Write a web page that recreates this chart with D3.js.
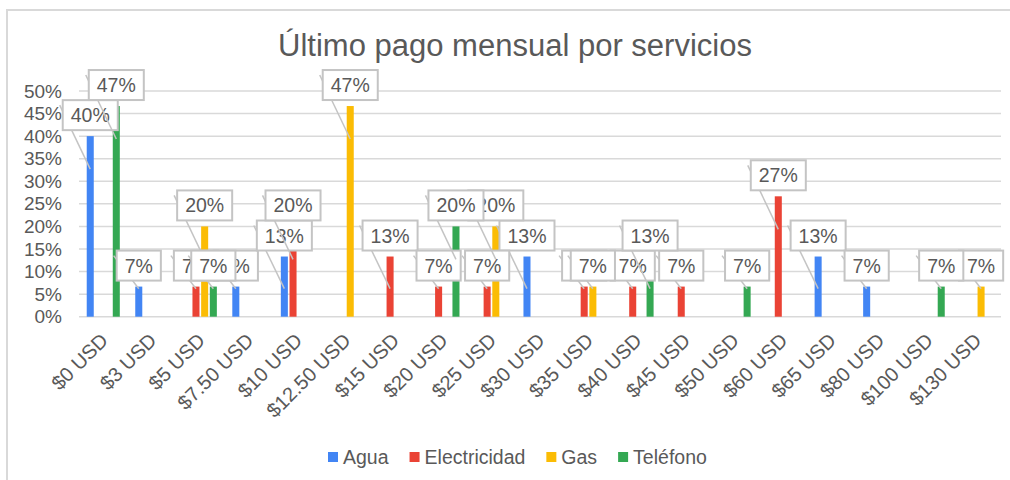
<!DOCTYPE html>
<html>
<head>
<meta charset="utf-8">
<script src="https://cdn.jsdelivr.net/npm/d3@7"></script>
<style>
  body { margin: 0; background: #fff; }
  text { font-family: "Liberation Sans", Arial, sans-serif; fill: #595959; }
</style>
</head>
<body>
<svg id="chart" width="1010" height="480"></svg>
<script>
// categorias (ultimo pago) y porcentajes por servicio
const categories = ["$0 USD", "$3 USD", "$5 USD", "$7.50 USD", "$10 USD", "$12.50 USD", "$15 USD", "$20 USD", "$25 USD", "$30 USD",
                    "$35 USD", "$40 USD", "$45 USD", "$50 USD", "$60 USD", "$65 USD", "$80 USD", "$100 USD", "$130 USD"]
const seriesNames = ["Agua", "Electricidad", "Gas", "Teléfono"]
const agua = [40, 6.67, 0, 6.67, 13.33, 0, 0, 0, 0, 13.33, 0, 0, 0, 0, 0, 13.33, 6.67, 0, 0]
const electricidad = [0, 0, 6.67, 0, 20, 0, 13.33, 6.67, 6.67, 0, 6.67, 6.67, 6.67, 0, 26.67, 0, 0, 0, 0]
const gas = [0, 0, 20, 0, 0, 46.67, 0, 0, 20, 0, 6.67, 0, 0, 0, 0, 0, 0, 0, 6.67]
const telefono = [46.67, 0, 6.67, 0, 0, 0, 0, 20, 0, 0, 0, 13.33, 0, 6.67, 0, 0, 0, 6.67, 0]
const yTicks = [0, 5, 10, 15, 20, 25, 30, 35, 40, 45, 50]
const colors = ["#4285F4", "#EA4335", "#FBBC04", "#34A853"]

const seriesValues = [agua, electricidad, gas, telefono]

const svg = d3.select("#chart")

// borde del grafico
svg.append("line").attr("x1", 7).attr("x2", 1010).attr("y1", 10).attr("y2", 10)
   .attr("stroke", "#d9d9d9").attr("stroke-width", 2)
svg.append("line").attr("x1", 7).attr("x2", 7).attr("y1", 9).attr("y2", 480)
   .attr("stroke", "#d9d9d9").attr("stroke-width", 2)

// titulo
svg.append("text")
   .attr("x", 515).attr("y", 56)
   .attr("text-anchor", "middle")
   .style("font-size", "31px")
   .text("Último pago mensual por servicios")

const x0 = d3.scaleBand().domain(categories).range([79, 1001])
const x1 = d3.scaleBand().domain(seriesNames).range([0, x0.bandwidth()]).paddingInner(0.19).paddingOuter(0.89)
const y = d3.scaleLinear().domain([0, 50]).range([316.7, 91])

// lineas de cuadricula
svg.append("g")
   .selectAll("line")
   .data(yTicks)
   .join("line")
   .attr("x1", 79).attr("x2", 1001)
   .attr("y1", d => y(d)).attr("y2", d => y(d))
   .attr("stroke", "#d9d9d9").attr("stroke-width", 1.5)

// eje Y
const yAxis = svg.append("g")
   .attr("transform", "translate(79,0)")
   .call(d3.axisLeft(y).tickValues(yTicks).tickSize(0).tickPadding(17).tickFormat(d => d + "%"))
yAxis.select(".domain").remove()
yAxis.selectAll("text").style("font-size", "19px").attr("fill", "#595959")

// eje X (etiquetas a 45 grados)
const xAxis = svg.append("g")
   .attr("transform", "translate(0,316.7)")
   .call(d3.axisBottom(x0).tickSize(0))
xAxis.select(".domain").remove()
xAxis.selectAll("text")
   .style("font-size", "20px")
   .attr("fill", "#595959")
   .attr("text-anchor", "end")
   .attr("dy", 0)
   .attr("y", 0)
   .attr("transform", "translate(6,25) rotate(-45)")

// barras
const bars = []
seriesValues.forEach((vals, s) => {
    vals.forEach((v, c) => {
        if (v > 0) bars.push({serie: seriesNames[s], cat: categories[c], value: v, color: colors[s]})
    })
})

svg.append("g")
   .selectAll("rect")
   .data(bars)
   .join("rect")
   .attr("x", d => x0(d.cat) + x1(d.serie))
   .attr("y", d => y(d.value))
   .attr("width", x1.bandwidth())
   .attr("height", d => y(0) - y(d.value))
   .attr("fill", d => d.color)

// etiquetas de datos con linea guia
const labelLayer = svg.append("g")
bars.forEach(d => {
    const cx = x0(d.cat) + x1(d.serie) + x1.bandwidth() / 2
    const top = y(d.value)
    const h = y(0) - top
    const g = labelLayer.append("g")
    const line = g.append("line")
    const rect = g.append("rect")
    const txt = g.append("text")
       .attr("text-anchor", "middle")
       .style("font-size", "19.5px")
       .text(Math.round(d.value) + "%")
    const w = txt.node().getComputedTextLength() + 16
    const boxTop = top - 36
    rect.attr("x", cx - w / 2).attr("y", boxTop)
        .attr("width", w).attr("height", 30)
        .attr("fill", "#fff").attr("stroke", "#c4c4c4").attr("stroke-width", 2)
    txt.attr("x", cx).attr("y", boxTop + 22)
    line.attr("x1", cx - w / 2 - 3).attr("y1", boxTop + 5)
        .attr("x2", cx).attr("y2", top + Math.min(33, h - 28))
        .attr("stroke", "#c4c4c4").attr("stroke-width", 1.5)
})

// leyenda
let lx = 328
const legend = svg.append("g")
seriesNames.forEach((name, i) => {
    legend.append("rect").attr("x", lx).attr("y", 452).attr("width", 10).attr("height", 10).attr("fill", colors[i])
    const t = legend.append("text").attr("x", lx + 15).attr("y", 464).style("font-size", "19.5px").text(name)
    lx += 15 + t.node().getComputedTextLength() + 21
})
</script>
</body>
</html>
